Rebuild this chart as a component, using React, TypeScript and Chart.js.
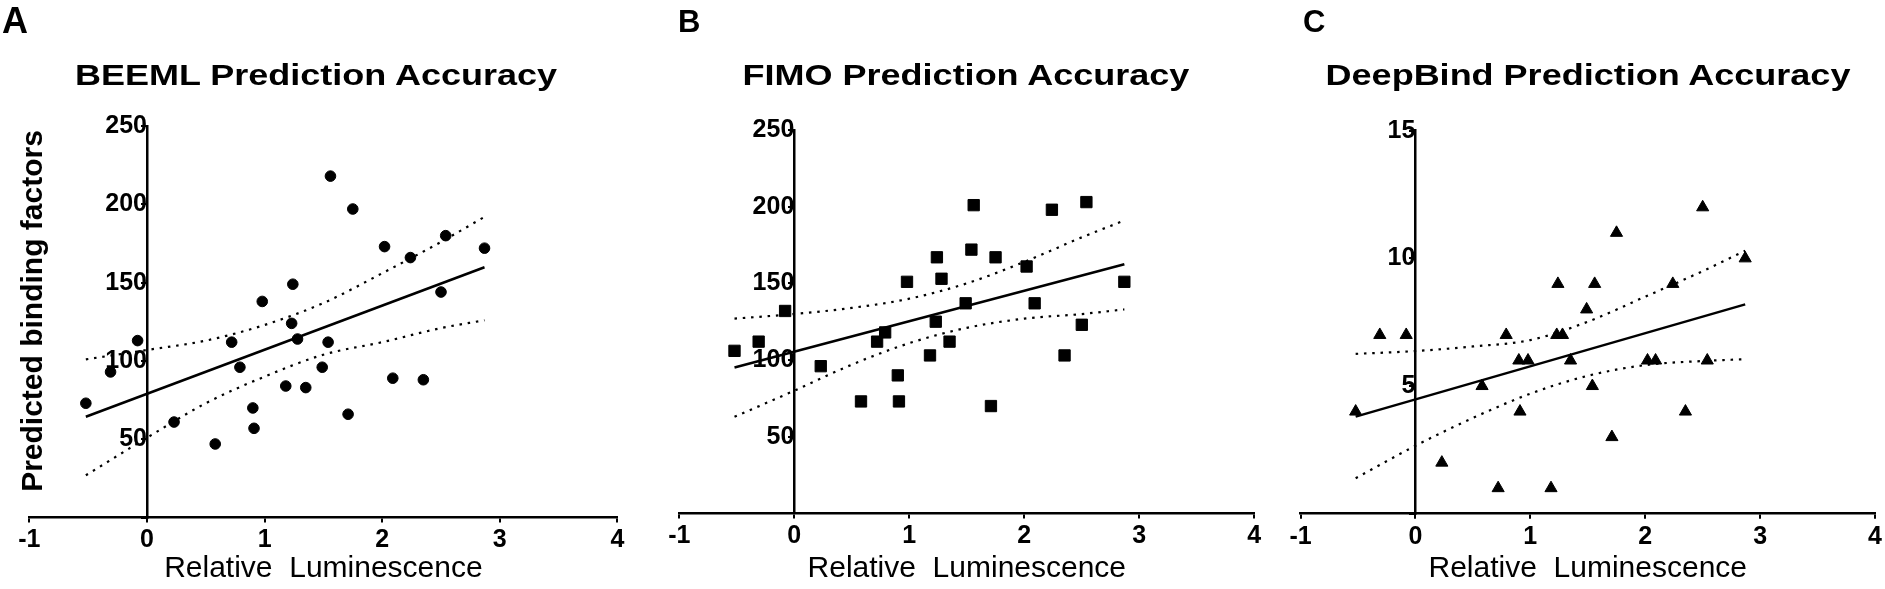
import React, { useEffect, useRef } from "react";
import { Chart, registerables } from "chart.js";

Chart.register(...registerables);

// Relative luminescence (shared x values of the 27 constructs)
const LUMINESCENCE = [-0.52, -0.31, -0.08, 0.23, 0.58, 0.72, 0.79, 0.9, 0.91, 0.98, 1.18, 1.23, 1.24, 1.28, 1.35, 1.49, 1.54, 1.56, 1.71, 1.75, 2.02, 2.09, 2.24, 2.35, 2.5, 2.54, 2.87];

// Predicted binding factors per tool
const BEEML = [73, 93, 113, 61, 47, 112, 96, 70, 57, 138, 84, 124, 149, 114, 83, 96, 112, 218, 66, 197, 173, 89, 166, 88, 144, 180, 172];
const FIMO = [106, 112, 132, 96, 73, 112, 118, 90, 73, 151, 103, 125, 167, 153, 112, 137, 172, 201, 70, 167, 161, 137, 198, 103, 123, 203, 151];
const DEEPBIND = [4, 7, 7, 2, 5, 1, 7, 6, 4, 6, 1, 7, 9, 7, 6, 8, 5, 9, 3, 11, 6, 6, 9, 4, 12, 6, 10];

// Linear fit end points
const FIT_X = [-0.52, 2.87];
const BEEML_FIT = [64.4, 159.8];
const FIMO_FIT = [95.1, 162.5];
const DEEPBIND_FIT = [3.8, 8.2];

// 95% confidence bands (read at these x values)
const BAND_X = [-0.52, 0, 0.5, 1.0, 1.5, 2.0, 2.5, 2.87];
const BEEML_UPPER = [101, 107, 113, 123, 137, 156, 176, 192];
const BEEML_LOWER = [27, 51, 73, 90, 104, 112, 121, 126];
const FIMO_UPPER = [127, 130, 134, 140, 150, 164, 180, 191];
const FIMO_LOWER = [63, 80, 97, 111, 121, 127, 130, 133];
const DEEPBIND_UPPER = [6.26, 6.37, 6.55, 6.8, 7.52, 8.5, 9.5, 10.3];
const DEEPBIND_LOWER = [1.39, 2.66, 3.75, 4.7, 5.4, 5.82, 5.98, 6.05];

// Tick labels
const X_TICKS = [-1, 0, 1, 2, 3, 4];
const Y_TICKS_COUNT = [0, 50, 100, 150, 200, 250];
const Y_TICKS_DEEPBIND = [0, 5, 10, 15];

const TITLES = ["BEEML Prediction Accuracy", "FIMO Prediction Accuracy", "DeepBind Prediction Accuracy"];
const LETTERS = ["A", "B", "C"];
const X_TITLE = "Relative  Luminescence";
const Y_TITLE = "Predicted binding factors";

const H = 589;
const TEXT_FONT = "'Liberation Sans', Arial, sans-serif";

type Spec = {
  left: number;
  width: number;
  padL: number;
  padR: number;
  padT: number;
  axisH: number;
  yMax: number;
  yTicks: number[];
  values: number[];
  fit: number[];
  upper: number[];
  lower: number[];
  pointStyle: string;
  pointRadius: number;
};

const SPECS: Spec[] = [
  { left: 0, width: 640, padL: 29.4, padR: 22.6, padT: 126, axisH: 71.4, yMax: 250, yTicks: Y_TICKS_COUNT, values: BEEML, fit: BEEML_FIT, upper: BEEML_UPPER, lower: BEEML_LOWER, pointStyle: "circle", pointRadius: 5.3 },
  { left: 640, width: 640, padL: 39.3, padR: 25.7, padT: 130, axisH: 75.6, yMax: 250, yTicks: Y_TICKS_COUNT, values: FIMO, fit: FIMO_FIT, upper: FIMO_UPPER, lower: FIMO_LOWER, pointStyle: "rect", pointRadius: 8 },
  { left: 1280, width: 605, padL: 20.5, padR: 9.5, padT: 130.7, axisH: 75.3, yMax: 15, yTicks: Y_TICKS_DEEPBIND, values: DEEPBIND, fit: DEEPBIND_FIT, upper: DEEPBIND_UPPER, lower: DEEPBIND_LOWER, pointStyle: "triangle", pointRadius: 7 },
];

function Panel({ spec }: { spec: Spec }) {
  const ref = useRef<HTMLCanvasElement | null>(null);
  useEffect(() => {
    const pts = LUMINESCENCE.map((x, i) => ({ x, y: spec.values[i] }));
    const fit = FIT_X.map((x, i) => ({ x, y: spec.fit[i] }));
    const up = BAND_X.map((x, i) => ({ x, y: spec.upper[i] }));
    const lo = BAND_X.map((x, i) => ({ x, y: spec.lower[i] }));
    const dotted = {
      showLine: true,
      borderColor: "#000",
      borderWidth: 2.2,
      borderDash: [2.5, 5.8],
      borderCapStyle: "butt" as const,
      pointRadius: 0,
      cubicInterpolationMode: "monotone" as const,
      order: 2,
    };
    const tickFont = { family: TEXT_FONT, size: 25, weight: "bold" as const };
    const chart = new Chart(ref.current as HTMLCanvasElement, {
      type: "scatter",
      data: {
        datasets: [
          {
            data: pts,
            pointStyle: spec.pointStyle as any,
            pointRadius: spec.pointRadius,
            pointBorderWidth: 1,
            backgroundColor: "#000",
            borderColor: "#000",
            showLine: false,
            order: 0,
          },
          { data: fit, showLine: true, borderColor: "#000", borderWidth: 2.5, pointRadius: 0, order: 1 },
          { data: up, ...dotted },
          { data: lo, ...dotted },
        ],
      },
      options: {
        responsive: false,
        animation: false,
        devicePixelRatio: 1,
        layout: { padding: { left: spec.padL, right: spec.padR, top: spec.padT, bottom: 0 } },
        plugins: { legend: { display: false }, title: { display: false }, tooltip: { enabled: false } },
        scales: {
          x: {
            type: "linear",
            min: -1,
            max: 4,
            position: "bottom",
            afterBuildTicks: (s: any) => {
              s.ticks = X_TICKS.map((v) => ({ value: v }));
            },
            afterFit: (s: any) => {
              s.height = spec.axisH;
            },
            ticks: {
              color: "#000",
              font: tickFont,
              padding: 3,
              maxRotation: 0,
              autoSkip: false,
            },
            grid: { drawOnChartArea: false, drawTicks: true, tickLength: 5, color: "#000", lineWidth: 2 },
            border: { display: true, color: "#000", width: 2.5 },
            title: {
              display: true,
              text: X_TITLE,
              color: "#000",
              font: { family: TEXT_FONT, size: 30, weight: "normal" },
              padding: { top: 0, bottom: 2 },
            },
          },
          y: {
            type: "linear",
            min: 0,
            max: spec.yMax,
            position: { x: 0 } as any,
            afterBuildTicks: (s: any) => {
              s.ticks = spec.yTicks.map((v) => ({ value: v }));
            },
            ticks: {
              color: "#000",
              font: tickFont,
              padding: 2,
              callback: (v: any) => (v === 0 ? "" : String(v)),
            },
            grid: { drawOnChartArea: false, drawTicks: true, tickLength: 5, color: "#000", lineWidth: 2 },
            border: { display: true, color: "#000", width: 2.5 },
          },
        },
      },
    } as any);
    return () => chart.destroy();
  }, [spec]);
  return (
    <canvas
      ref={ref}
      width={spec.width}
      height={H}
      style={{ position: "absolute", left: spec.left, top: 0, width: spec.width, height: H }}
    />
  );
}

const TITLE_CENTERS = [316, 966, 1588];
const LETTER_LEFTS = [2, 678, 1303];

export default function App() {
  return (
    <div
      style={{
        position: "absolute",
        left: 0,
        top: 0,
        width: 1885,
        height: H,
        background: "#fff",
        overflow: "hidden",
        fontFamily: TEXT_FONT,
        color: "#000",
      }}
    >
      {SPECS.map((s, i) => (
        <Panel key={i} spec={s} />
      ))}
      {LETTERS.map((l, i) => (
        <div
          key={"l" + i}
          style={{
            position: "absolute",
            left: LETTER_LEFTS[i],
            top: i === 0 ? 3 : 6,
            fontSize: i === 0 ? 36 : 31,
            lineHeight: 1,
            fontWeight: "bold",
          }}
        >
          {l}
        </div>
      ))}
      {TITLES.map((t, i) => (
        <div
          key={"t" + i}
          style={{
            position: "absolute",
            left: TITLE_CENTERS[i] - 300,
            width: 600,
            top: 60,
            fontSize: 30,
            lineHeight: 1,
            fontWeight: "bold",
            textAlign: "center",
            whiteSpace: "nowrap",
            transform: "scaleX(1.2)",
            transformOrigin: "50% 50%",
          }}
        >
          {t}
        </div>
      ))}
      <div
        style={{
          position: "absolute",
          left: 31.5 - 250,
          top: 311 - 15,
          width: 500,
          height: 30,
          lineHeight: "30px",
          fontSize: 30,
          fontWeight: "bold",
          textAlign: "center",
          whiteSpace: "nowrap",
          transform: "rotate(-90deg)",
        }}
      >
        {Y_TITLE}
      </div>
    </div>
  );
}
